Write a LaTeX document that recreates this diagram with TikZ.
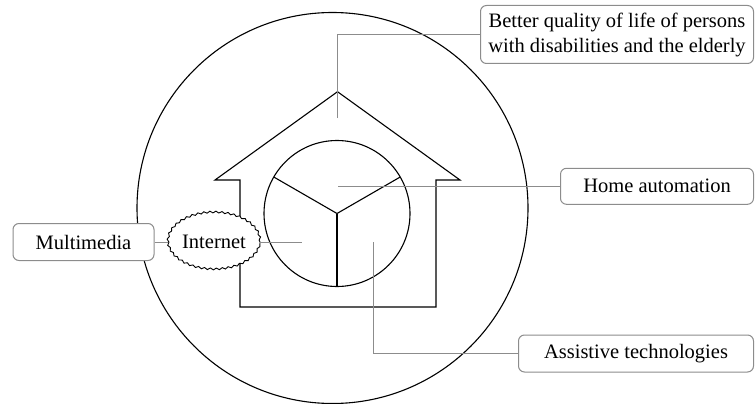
\documentclass[tikz,border=0pt]{standalone}
\usepackage{fontspec}
\setmainfont{Liberation Serif}
\usetikzlibrary{shapes.geometric,decorations.pathmorphing}
\definecolor{leadgray}{RGB}{140,140,140}
\tikzset{
  outline/.style={draw=black, line width=1.1pt},
  leader/.style={draw=leadgray, line width=1pt},
  labelbox/.style={draw=leadgray, line width=1pt, rounded corners=6pt, fill=white,
    inner sep=0pt, align=center, font=\fontsize{20.5}{25}\selectfont},
  cloud/.style={ellipse, draw=black, line width=0.9pt, fill=white, inner sep=0pt,
    minimum width=92pt, minimum height=57pt, font=\fontsize{20.5}{25}\selectfont,
    decorate, decoration={snake, segment length=6pt, amplitude=0.9pt}}
}
\begin{document}
\begin{tikzpicture}[x=1pt,y=-1pt]
\useasboundingbox (0,0) rectangle (755,404);
% big circle
\draw[outline] (332.5,208) circle (195.5);
% house
\draw[outline] (215,180) -- (337.5,91.7) -- (460,180) -- (436,180) -- (436,307)
  -- (240,307) -- (240,180) -- cycle;
% inner circle and Y
\draw[outline] (337,213.5) circle (73);
\coordinate (ctr) at (337,213.5);
\draw[outline] (ctr) -- ++(210:73);
\draw[outline] (ctr) -- ++(330:73);
\draw[outline] (ctr) -- ++(0,73);
% anchor points
\coordinate (roofpt) at (337.5,118);
\coordinate (roofcorner) at (337.5,34.5);
\coordinate (homept) at (338,186.3);
\coordinate (netpt) at (302,242);
\coordinate (assistpt) at (373,242);
\coordinate (assistcorner) at (373,353.5);
% boxes
\node[labelbox, minimum width=273pt, minimum height=58pt] (better) at (617,34.5)
  {Better quality of life of persons\\with disabilities and the elderly};
\node[labelbox, minimum width=193pt, minimum height=36pt] (home) at (657,186.3) {Home automation};
\node[labelbox, minimum width=235pt, minimum height=37pt] (assist) at (636,353.5) {Assistive technologies};
\node[labelbox, minimum width=141pt, minimum height=37pt] (multi) at (83.5,242) {Multimedia};
\node[cloud] (net) at (214,242) {Internet};
% leaders
\draw[leader] (roofpt) -- (roofcorner) -- (better.west);
\draw[leader] (homept) -- (home.west);
\draw[leader] (assistpt) -- (assistcorner) -- (assist.west);
\draw[leader] (net.east) -- (netpt);
\draw[leader] (multi.east) -- (net.west);
\end{tikzpicture}
\end{document}
